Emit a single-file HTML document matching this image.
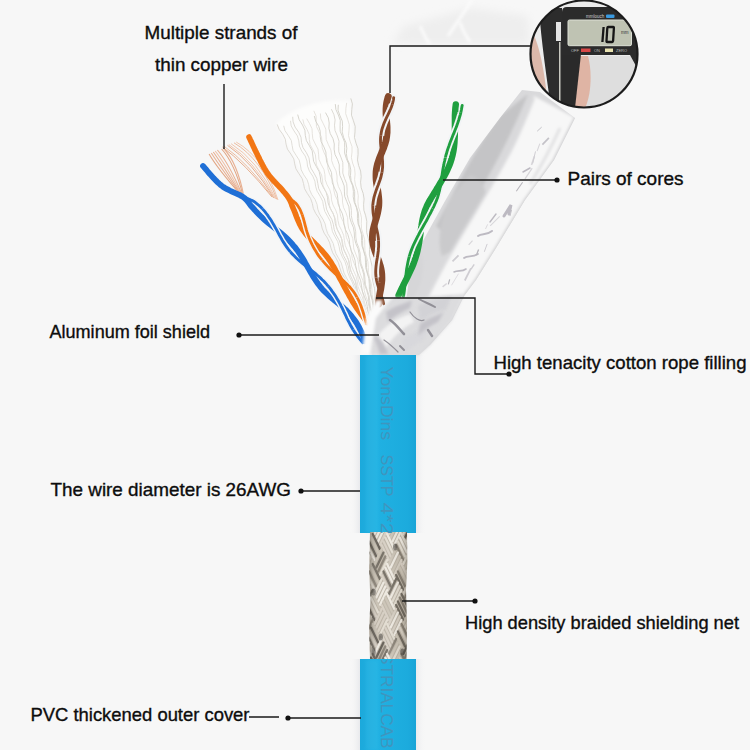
<!DOCTYPE html>
<html><head><meta charset="utf-8">
<style>
html,body{margin:0;padding:0;width:750px;height:750px;overflow:hidden;background:#f7f7f7;}
svg{display:block;}
text{font-family:"Liberation Sans",sans-serif;}
.lbl{fill:#0d0d0d;stroke:#0d0d0d;stroke-width:0.35;font-size:18.6px;}
</style></head><body>
<svg width="750" height="750" viewBox="0 0 750 750">
<defs>
  <linearGradient id="blueG" x1="0" x2="1" y1="0" y2="0">
    <stop offset="0" stop-color="#1ca9db"/>
    <stop offset="0.3" stop-color="#20b1e2"/>
    <stop offset="0.85" stop-color="#1cabdd"/>
    <stop offset="1" stop-color="#18a4d7"/>
  </linearGradient>
  <linearGradient id="foilG" x1="0" y1="0" x2="1" y2="0.55">
    <stop offset="0" stop-color="#cfcfd0"/>
    <stop offset="0.45" stop-color="#ebebeb"/>
    <stop offset="0.7" stop-color="#f4f4f4"/>
    <stop offset="1" stop-color="#dedede"/>
  </linearGradient>
  <pattern id="braidP" width="14" height="14" patternUnits="userSpaceOnUse" x="368" y="532">
    <rect width="14" height="14" fill="#c4beb2"/>
    <path d="M0 0 L14 14 M-7 7 L7 21 M7 -7 L21 7" stroke="#e6e2da" stroke-width="3"/>
    <path d="M14 0 L0 14 M21 7 L7 21 M7 -7 L-7 7" stroke="#8c867a" stroke-width="1.6"/>
  </pattern>
  <filter id="soft" x="-20%" y="-20%" width="140%" height="140%"><feGaussianBlur stdDeviation="1.6"/></filter>
  <clipPath id="braidClip"><path d="M370 532 L407 532 L407.5 560 L406 590 L407 625 L406.5 660 L370 660 L369 630 L370.5 600 L369 570 Z"/></clipPath>
  <linearGradient id="braidShade" x1="0" x2="1" y1="0" y2="0">
    <stop offset="0" stop-color="#4a463e" stop-opacity="0.35"/>
    <stop offset="0.25" stop-color="#fff" stop-opacity="0.05"/>
    <stop offset="0.55" stop-color="#fff" stop-opacity="0.12"/>
    <stop offset="0.85" stop-color="#4a463e" stop-opacity="0.05"/>
    <stop offset="1" stop-color="#4a463e" stop-opacity="0.3"/>
  </linearGradient>
  <clipPath id="blueClip1"><rect x="360" y="355" width="56" height="178"/></clipPath>
  <clipPath id="blueClip2"><rect x="360" y="660" width="56" height="90"/></clipPath>
  <filter id="soft2" x="-10%" y="-10%" width="120%" height="120%"><feGaussianBlur stdDeviation="0.7"/></filter>
  <clipPath id="foilClip"><path d="M522 90 L540 92 L575 118 L554 160 L525 200 L496 248 L476 280 L464 296 L452 320 L430 345 L419 355 L372 355 L378 330 L385 316 L407 273 L424 239 L445 201 L470 158 L500 118 Z"/></clipPath>
  <filter id="blur4" x="-30%" y="-30%" width="160%" height="160%"><feGaussianBlur stdDeviation="4"/></filter>
  <linearGradient id="shadeL" x1="0" x2="1"><stop offset="0" stop-color="#f7f7f7" stop-opacity="0"/><stop offset="1" stop-color="#e8e9ec"/></linearGradient>
  <linearGradient id="shadeR" x1="0" x2="1"><stop offset="0" stop-color="#eaebee"/><stop offset="1" stop-color="#f7f7f7" stop-opacity="0"/></linearGradient>
  <clipPath id="circClip"><circle cx="584" cy="54" r="53.5"/></clipPath>
</defs>
<rect width="750" height="750" fill="#f7f7f7"/>
<g filter="url(#blur4)">
  <path d="M392 44 L404 26 L442 16 L470 8 L528 16 L530 44 Z" fill="#eeeeee"/>
</g>
<path d="M472 0 L448 36" stroke="#fbfbfb" stroke-width="3" filter="url(#soft)"/>
<path d="M420 26 C424 34 426 40 430 44 M460 22 C462 30 466 36 470 42" stroke="#fdfdfd" stroke-width="2.5" fill="none" filter="url(#soft)"/>
<rect x="350" y="355" width="10" height="178" fill="url(#shadeL)"/>
<rect x="416" y="355" width="10" height="178" fill="url(#shadeR)"/>
<rect x="350" y="659" width="10" height="91" fill="url(#shadeL)"/>
<rect x="416" y="659" width="10" height="91" fill="url(#shadeR)"/>

<!-- foil -->
<path d="M522 90 L540 92 L575 118 L554 160 L525 200 L496 248 L476 280 L464 296 L452 320 L430 345 L419 355 L372 355 L378 330 L385 316 L407 273 L424 239 L445 201 L470 158 L500 118 Z" fill="#d9d9db"/>
<g clip-path="url(#foilClip)"><g filter="url(#soft)">
  <path d="M500 116 L528 94 C516 124 500 156 484 184 C472 204 460 222 448 236 L436 226 C452 196 474 150 500 116 Z" fill="#c4c4c6"/>
  <path d="M470 175 C486 180 492 200 480 224 C470 240 456 250 442 256 C436 240 442 212 452 196 Z" fill="#cacacc"/>
  <path d="M420 250 C426 262 424 282 412 300 L398 304 C404 284 412 262 420 250 Z" fill="#d6d6d8"/>
  <path d="M534 96 L575 118 L554 160 L525 200 L496 248 L476 280 L464 296 L452 320 L440 334 L411 334 C420 310 432 286 446 262 C466 226 490 190 508 156 C518 136 526 116 534 96 Z" fill="#f7f7f7"/>
  <path d="M575 118 L554 160 L525 200 L496 248 L476 280 L464 296 L452 320 L430 345" stroke="#c6c6c8" stroke-width="2" fill="none"/>
  <path d="M534 98 C526 118 518 138 508 156 C490 190 466 226 446 262 C434 284 420 310 411 334" stroke="#dcdcde" stroke-width="2.5" fill="none"/>
  <path d="M560 128 C550 150 540 168 530 184" stroke="#d8d8da" stroke-width="2" fill="none"/>
</g>
<g filter="url(#soft2)" stroke="#bdbac2" fill="none" stroke-linecap="round">
  <path d="M504 216 L511 205 L509 214" stroke-width="3"/>
  <path d="M478 236 C482 233 486 236 492 231" stroke-width="2"/>
  <path d="M464 258 C468 255 472 258 478 254" stroke-width="1.8"/>
  <path d="M454 272 C458 270 462 272 466 269" stroke-width="1.6"/>
  <path d="M523 172 L530 168" stroke-width="1.5"/>
  <path d="M490 222 L496 214" stroke-width="1.4"/>
</g></g></g>
<g clip-path="url(#foilClip)" filter="url(#soft2)"><path d="M534.4 156.3 L531.5 165.1" stroke="#d8d6da" stroke-width="1.6"/>
<path d="M487.6 224.4 L485.5 229.0" stroke="#d8d6da" stroke-width="0.9"/>
<path d="M446.7 283.5 L442.6 286.9" stroke="#d8d6da" stroke-width="1.4"/>
<path d="M541.7 127.1 L537.2 131.2" stroke="#b8b6bc" stroke-width="0.8"/>
<path d="M449.7 279.3 L448.3 284.3" stroke="#b8b6bc" stroke-width="1.2"/>
<path d="M535.5 151.4 L532.7 163.4" stroke="#cfcdd2" stroke-width="1.0"/>
<path d="M441.3 326.5 L434.8 336.4" stroke="#c4c2c8" stroke-width="0.9"/>
<path d="M499.7 216.4 L490.2 225.8" stroke="#d8d6da" stroke-width="1.1"/>
<path d="M433.6 318.3 L430.3 327.0" stroke="#c4c2c8" stroke-width="1.0"/>
<path d="M474.2 264.4 L471.1 269.1" stroke="#cfcdd2" stroke-width="1.4"/>
<path d="M522.6 182.3 L516.3 191.3" stroke="#b8b6bc" stroke-width="1.1"/>
<path d="M472.5 240.7 L468.7 244.8" stroke="#d8d6da" stroke-width="1.2"/>
<path d="M470.9 268.3 L464.8 280.5" stroke="#cfcdd2" stroke-width="1.8"/>
<path d="M487.2 243.9 L484.3 251.8" stroke="#cfcdd2" stroke-width="1.0"/>
<path d="M548.9 137.8 L542.4 144.6" stroke="#c4c2c8" stroke-width="1.7"/>
<path d="M458.5 255.3 L452.5 261.3" stroke="#cfcdd2" stroke-width="1.8"/>
<path d="M458.5 273.7 L451.5 285.3" stroke="#d8d6da" stroke-width="0.8"/>
<path d="M532.2 168.1 L525.0 178.8" stroke="#d8d6da" stroke-width="1.3"/>
<path d="M439.3 305.2 L436.6 315.1" stroke="#c4c2c8" stroke-width="1.2"/>
<path d="M539.8 143.6 L537.1 151.1" stroke="#d8d6da" stroke-width="1.1"/>
<path d="M511.5 210.0 L510.0 216.1" stroke="#c4c2c8" stroke-width="1.0"/>
<path d="M478.6 249.6 L476.4 255.3" stroke="#b8b6bc" stroke-width="1.3"/></g>
<path d="M276 124 C290 108 322 98 350 101 C356 160 368 240 378 300 L382 330 L364 330 C344 260 302 170 276 124 Z" fill="#fdfdfc" filter="url(#soft)"/>
<path d="M277.2 124.4 L279.1 129.3 L282.7 134.2 L285.3 139.2 L286.0 144.1 L287.4 149.1 L290.8 154.0 L293.8 158.9 L294.7 163.9 L295.9 168.8 L299.0 173.8 L302.2 178.7 L303.5 183.6 L304.5 188.6 L307.3 193.5 L310.6 198.5 L312.3 203.4 L313.3 208.4 L315.6 213.3 L319.0 218.2 L321.0 223.2 L322.1 228.1 L324.1 233.1 L327.4 238.0 L329.7 242.9 L330.9 247.9 L332.7 252.8 L335.8 257.8 L338.4 262.7 L339.8 267.6 L341.4 272.6 L344.3 277.5 L347.1 282.5 L348.7 287.4 L350.2 292.4 L352.9 297.3 L355.7 302.2 L357.6 307.2 L359.1 312.1 L361.5 317.1 L364.4 322.0" stroke="#d9d6cf" stroke-width="0.9" fill="none"/>
<path d="M283.7 125.8 L285.0 130.7 L288.3 135.6 L291.3 140.5 L292.1 145.4 L293.0 150.3 L296.0 155.2 L299.2 160.1 L300.4 165.0 L301.2 169.9 L303.8 174.9 L307.1 179.8 L308.7 184.7 L309.5 189.6 L311.7 194.5 L315.0 199.4 L317.0 204.3 L317.8 209.2 L319.6 214.1 L322.8 219.0 L325.1 223.9 L326.1 228.8 L327.7 233.7 L330.7 238.6 L333.2 243.5 L334.4 248.4 L335.8 253.3 L338.5 258.2 L341.3 263.1 L342.7 268.0 L344.0 273.0 L346.5 277.9 L349.3 282.8 L351.0 287.7 L352.2 292.6 L354.5 297.5 L357.2 302.4 L359.2 307.3 L360.5 312.2 L362.5 317.1 L365.2 322.0" stroke="#dedbd5" stroke-width="0.9" fill="none"/>
<path d="M290.5 120.8 L291.2 125.9 L294.0 130.9 L297.4 135.9 L298.8 140.9 L299.4 146.0 L301.7 151.0 L305.2 156.0 L307.0 161.1 L307.5 166.1 L309.4 171.1 L312.8 176.2 L314.9 181.2 L315.6 186.2 L317.1 191.2 L320.2 196.3 L322.7 201.3 L323.5 206.3 L324.8 211.4 L327.6 216.4 L330.3 221.4 L331.4 226.4 L332.4 231.5 L334.9 236.5 L337.7 241.5 L339.1 246.6 L340.0 251.6 L342.2 256.6 L344.9 261.6 L346.6 266.7 L347.5 271.7 L349.4 276.7 L352.0 281.8 L353.9 286.8 L354.9 291.8 L356.5 296.9 L359.0 301.9 L361.1 306.9 L362.2 311.9 L363.6 317.0 L365.9 322.0" stroke="#dedbd5" stroke-width="0.9" fill="none"/>
<path d="M292.7 116.8 L293.1 121.9 L295.1 127.1 L298.7 132.2 L301.0 137.3 L301.5 142.5 L303.0 147.6 L306.4 152.7 L309.0 157.9 L309.7 163.0 L310.9 168.1 L314.0 173.2 L316.8 178.4 L317.8 183.5 L318.7 188.6 L321.4 193.8 L324.4 198.9 L325.7 204.0 L326.5 209.1 L328.8 214.3 L331.8 219.4 L333.4 224.5 L334.2 229.7 L336.1 234.8 L339.0 239.9 L340.9 245.1 L341.7 250.2 L343.3 255.3 L346.1 260.4 L348.2 265.6 L349.1 270.7 L350.5 275.8 L353.0 281.0 L355.3 286.1 L356.4 291.2 L357.6 296.4 L359.9 301.5 L362.2 306.6 L363.5 311.7 L364.6 316.9 L366.6 322.0" stroke="#d9d6cf" stroke-width="0.9" fill="none"/>
<path d="M297.7 114.6 L299.2 119.8 L302.5 125.0 L304.9 130.2 L305.3 135.4 L306.4 140.6 L309.4 145.7 L312.2 150.9 L312.9 156.1 L313.6 161.3 L316.3 166.5 L319.2 171.7 L320.3 176.9 L320.9 182.0 L323.2 187.2 L326.2 192.4 L327.6 197.6 L328.1 202.8 L330.0 208.0 L333.0 213.1 L334.7 218.3 L335.3 223.5 L336.9 228.7 L339.6 233.9 L341.7 239.1 L342.4 244.2 L343.7 249.4 L346.3 254.6 L348.5 259.8 L349.4 265.0 L350.5 270.2 L352.8 275.3 L355.1 280.5 L356.3 285.7 L357.3 290.9 L359.3 296.1 L361.7 301.3 L363.1 306.4 L364.0 311.6 L365.8 316.8 L368.1 322.0" stroke="#d3d0c8" stroke-width="0.9" fill="none"/>
<path d="M302.8 119.3 L304.0 124.3 L307.0 129.4 L309.2 134.5 L309.3 139.5 L310.1 144.6 L312.9 149.7 L315.4 154.7 L315.9 159.8 L316.4 164.9 L318.9 169.9 L321.6 175.0 L322.5 180.1 L322.9 185.1 L325.1 190.2 L327.9 195.3 L329.1 200.4 L329.5 205.4 L331.3 210.5 L334.1 215.6 L335.8 220.6 L336.3 225.7 L337.7 230.8 L340.5 235.8 L342.4 240.9 L343.1 246.0 L344.3 251.0 L346.8 256.1 L349.0 261.2 L349.9 266.2 L351.0 271.3 L353.3 276.4 L355.7 281.5 L356.8 286.5 L357.8 291.6 L359.9 296.7 L362.3 301.7 L363.8 306.8 L364.8 311.9 L366.7 316.9 L369.0 322.0" stroke="#e3e0da" stroke-width="0.9" fill="none"/>
<path d="M306.7 118.6 L309.6 123.7 L312.0 128.7 L312.3 133.8 L312.8 138.9 L315.3 144.0 L318.0 149.1 L318.6 154.2 L318.9 159.3 L321.1 164.3 L323.9 169.4 L324.9 174.5 L325.2 179.6 L327.0 184.7 L329.8 189.8 L331.2 194.9 L331.5 199.9 L333.0 205.0 L335.7 210.1 L337.5 215.2 L337.9 220.3 L339.1 225.4 L341.7 230.5 L343.7 235.5 L344.4 240.6 L345.3 245.7 L347.6 250.8 L349.9 255.9 L350.8 261.0 L351.6 266.1 L353.7 271.1 L356.0 276.2 L357.2 281.3 L358.0 286.4 L359.8 291.5 L362.2 296.6 L363.6 301.7 L364.5 306.7 L366.1 311.8 L368.3 316.9 L370.0 322.0" stroke="#e3e0da" stroke-width="0.9" fill="none"/>
<path d="M313.8 110.8 L316.1 116.1 L316.2 121.4 L316.5 126.6 L319.0 131.9 L321.5 137.2 L322.0 142.5 L322.2 147.8 L324.2 153.0 L326.9 158.3 L327.8 163.6 L327.9 168.9 L329.6 174.2 L332.3 179.4 L333.6 184.7 L333.8 190.0 L335.1 195.3 L337.7 200.6 L339.4 205.8 L339.7 211.1 L340.7 216.4 L343.2 221.7 L345.1 227.0 L345.6 232.2 L346.4 237.5 L348.7 242.8 L350.8 248.1 L351.6 253.4 L352.3 258.6 L354.3 263.9 L356.5 269.2 L357.6 274.5 L358.2 279.8 L359.9 285.0 L362.2 290.3 L363.5 295.6 L364.2 300.9 L365.7 306.2 L367.9 311.4 L369.5 316.7 L370.3 322.0" stroke="#e3e0da" stroke-width="0.9" fill="none"/>
<path d="M314.3 116.0 L315.7 121.1 L318.7 126.3 L320.3 131.4 L320.2 136.6 L321.1 141.7 L323.9 146.9 L325.9 152.0 L326.1 157.2 L326.7 162.3 L329.2 167.5 L331.5 172.6 L331.9 177.8 L332.3 182.9 L334.5 188.1 L337.0 193.2 L337.8 198.4 L338.0 203.5 L339.9 208.7 L342.4 213.8 L343.6 219.0 L343.9 224.1 L345.3 229.3 L347.8 234.4 L349.3 239.6 L349.7 244.7 L350.9 249.9 L353.3 255.0 L355.0 260.2 L355.6 265.3 L356.6 270.5 L358.7 275.6 L360.7 280.8 L361.5 285.9 L362.3 291.1 L364.3 296.2 L366.3 301.4 L367.3 306.5 L368.1 311.7 L369.8 316.8 L371.9 322.0" stroke="#d3d0c8" stroke-width="0.9" fill="none"/>
<path d="M320.4 113.5 L320.8 118.7 L323.4 123.9 L325.8 129.1 L326.0 134.3 L326.2 139.5 L328.4 144.7 L330.9 150.0 L331.6 155.2 L331.6 160.4 L333.4 165.6 L336.0 170.8 L337.0 176.0 L337.0 181.2 L338.4 186.5 L341.0 191.7 L342.4 196.9 L342.5 202.1 L343.5 207.3 L345.9 212.5 L347.6 217.7 L347.9 222.9 L348.6 228.2 L350.8 233.4 L352.8 238.6 L353.3 243.8 L353.8 249.0 L355.8 254.2 L357.8 259.4 L358.6 264.7 L359.1 269.9 L360.7 275.1 L362.8 280.3 L363.8 285.5 L364.3 290.7 L365.7 295.9 L367.7 301.1 L369.0 306.4 L369.6 311.6 L370.7 316.8 L372.6 322.0" stroke="#e3e0da" stroke-width="0.9" fill="none"/>
<path d="M325.5 112.6 L328.3 117.8 L329.2 123.0 L328.9 128.3 L330.2 133.5 L333.0 138.7 L334.3 144.0 L334.1 149.2 L335.0 154.5 L337.6 159.7 L339.3 164.9 L339.3 170.2 L339.9 175.4 L342.2 180.6 L344.2 185.9 L344.4 191.1 L344.7 196.3 L346.8 201.6 L348.9 206.8 L349.4 212.0 L349.6 217.3 L351.3 222.5 L353.5 227.8 L354.3 233.0 L354.5 238.2 L355.8 243.5 L358.0 248.7 L359.1 253.9 L359.3 259.2 L360.4 264.4 L362.4 269.6 L363.8 274.9 L364.1 280.1 L364.9 285.3 L366.8 290.6 L368.3 295.8 L368.8 301.1 L369.5 306.3 L371.1 311.5 L372.7 316.8 L373.4 322.0" stroke="#d3d0c8" stroke-width="0.9" fill="none"/>
<path d="M331.4 109.2 L333.9 114.6 L335.1 119.9 L334.5 125.2 L335.0 130.5 L337.3 135.8 L339.0 141.2 L338.7 146.5 L338.8 151.8 L340.9 157.1 L342.8 162.4 L342.9 167.7 L342.8 173.1 L344.5 178.4 L346.7 183.7 L347.1 189.0 L347.0 194.3 L348.4 199.7 L350.6 205.0 L351.4 210.3 L351.3 215.6 L352.4 220.9 L354.6 226.3 L355.7 231.6 L355.8 236.9 L356.6 242.2 L358.7 247.5 L360.1 252.9 L360.4 258.2 L361.0 263.5 L362.9 268.8 L364.5 274.1 L365.0 279.4 L365.5 284.8 L367.2 290.1 L369.0 295.4 L369.7 300.7 L370.2 306.0 L371.7 311.4 L373.5 316.7 L374.5 322.0" stroke="#d9d6cf" stroke-width="0.9" fill="none"/>
<path d="M335.3 104.1 L335.9 109.5 L338.4 115.0 L340.3 120.4 L340.1 125.9 L340.2 131.3 L342.5 136.8 L344.6 142.2 L344.7 147.7 L344.6 153.1 L346.4 158.6 L348.7 164.0 L349.1 169.5 L348.9 174.9 L350.4 180.4 L352.6 185.8 L353.4 191.3 L353.2 196.7 L354.2 202.1 L356.4 207.6 L357.5 213.0 L357.4 218.5 L358.1 223.9 L360.1 229.4 L361.5 234.8 L361.5 240.3 L361.9 245.7 L363.7 251.2 L365.2 256.6 L365.5 262.1 L365.7 267.5 L367.2 273.0 L368.8 278.4 L369.3 283.9 L369.4 289.3 L370.6 294.8 L372.2 300.2 L372.9 305.7 L373.1 311.1 L374.0 316.6 L375.5 322.0" stroke="#d3d0c8" stroke-width="0.9" fill="none"/>
<path d="M338.3 104.8 L338.0 110.2 L339.9 115.6 L342.3 121.1 L342.6 126.5 L342.2 131.9 L343.6 137.4 L346.0 142.8 L346.8 148.2 L346.3 153.7 L347.3 159.1 L349.7 164.5 L350.8 170.0 L350.5 175.4 L351.1 180.8 L353.3 186.2 L354.7 191.7 L354.6 197.1 L354.9 202.5 L356.9 208.0 L358.5 213.4 L358.7 218.8 L358.8 224.3 L360.4 229.7 L362.2 235.1 L362.6 240.5 L362.7 246.0 L364.0 251.4 L365.8 256.8 L366.5 262.3 L366.5 267.7 L367.5 273.1 L369.3 278.6 L370.3 284.0 L370.4 289.4 L371.1 294.8 L372.8 300.3 L373.9 305.7 L374.2 311.1 L374.8 316.6 L376.2 322.0" stroke="#d3d0c8" stroke-width="0.9" fill="none"/>
<path d="M346.7 102.8 L345.9 108.2 L345.7 113.7 L347.6 119.2 L349.3 124.7 L349.0 130.2 L348.5 135.6 L350.0 141.1 L352.0 146.6 L352.0 152.1 L351.4 157.6 L352.6 163.0 L354.6 168.5 L355.1 174.0 L354.6 179.5 L355.4 185.0 L357.4 190.5 L358.3 195.9 L357.9 201.4 L358.4 206.9 L360.3 212.4 L361.5 217.9 L361.3 223.3 L361.5 228.8 L363.2 234.3 L364.7 239.8 L364.8 245.3 L364.9 250.7 L366.3 256.2 L367.9 261.7 L368.3 267.2 L368.4 272.7 L369.6 278.2 L371.3 283.6 L371.9 289.1 L372.1 294.6 L373.1 300.1 L374.7 305.6 L375.6 311.0 L375.8 316.5 L376.7 322.0" stroke="#e3e0da" stroke-width="0.9" fill="none"/>
<path d="M350.8 98.4 L352.4 103.9 L351.8 109.5 L351.5 115.1 L353.4 120.7 L355.2 126.3 L355.0 131.9 L354.5 137.5 L356.0 143.1 L358.0 148.7 L358.1 154.3 L357.5 159.9 L358.6 165.4 L360.6 171.0 L361.2 176.6 L360.6 182.2 L361.2 187.8 L363.2 193.4 L364.1 199.0 L363.6 204.6 L363.9 210.2 L365.7 215.8 L366.8 221.4 L366.6 227.0 L366.7 232.5 L368.2 238.1 L369.5 243.7 L369.5 249.3 L369.4 254.9 L370.7 260.5 L372.1 266.1 L372.3 271.7 L372.2 277.3 L373.2 282.9 L374.6 288.5 L375.1 294.0 L375.0 299.6 L375.7 305.2 L377.1 310.8 L377.7 316.4 L377.7 322.0" stroke="#d3d0c8" stroke-width="0.9" fill="none"/>
<path d="M209.1 154.0 Q217.1 168.0 240.0 194.0" stroke="#e2a684" stroke-width="1.1" fill="none"/>
<path d="M211.3 153.0 Q220.3 167.0 240.7 194.5" stroke="#e8b092" stroke-width="1.1" fill="none"/>
<path d="M213.3 152.0 Q223.3 166.0 241.3 195.0" stroke="#e8b092" stroke-width="1.1" fill="none"/>
<path d="M215.2 151.0 Q226.2 165.0 242.0 195.5" stroke="#efc0a6" stroke-width="1.1" fill="none"/>
<path d="M217.4 150.0 Q229.4 164.0 242.7 196.0" stroke="#e8b092" stroke-width="1.1" fill="none"/>
<path d="M221.6 149.0 Q234.6 163.0 243.3 196.5" stroke="#e2a684" stroke-width="1.1" fill="none"/>
<path d="M223.2 148.0 Q237.2 162.0 244.0 197.0" stroke="#e8b092" stroke-width="1.1" fill="none"/>
<path d="M222.4 147.0 Q244.4 163.0 272.0 197.0" stroke="#e6ae8e" stroke-width="1.0" fill="none"/>
<path d="M224.0 146.2 Q247.0 162.2 273.0 197.5" stroke="#ecbc9f" stroke-width="1.0" fill="none"/>
<path d="M227.5 145.3 Q251.5 161.3 274.0 198.0" stroke="#e6ae8e" stroke-width="1.0" fill="none"/>
<path d="M228.8 144.5 Q253.8 160.5 275.0 198.5" stroke="#f2c8b0" stroke-width="1.0" fill="none"/>
<path d="M231.1 143.7 Q257.1 159.7 276.0 199.0" stroke="#f2c8b0" stroke-width="1.0" fill="none"/>
<path d="M234.0 142.8 Q261.0 158.8 277.0 199.5" stroke="#ecbc9f" stroke-width="1.0" fill="none"/>
<path d="M236.2 142.0 Q264.2 158.0 278.0 200.0" stroke="#f2c8b0" stroke-width="1.0" fill="none"/>
<path d="M241.6 196.0 L243.4 196.8 L245.1 197.5 L246.9 198.3 L248.7 199.1 L250.5 199.9 L252.3 200.6 L254.0 201.5 L255.5 202.6 L257.0 203.8 L258.4 205.0 L259.8 206.2 L261.2 207.5 L262.5 208.9 L263.8 210.4 L265.1 211.9 L266.3 213.5 L267.6 215.2 L268.8 217.0 L270.1 218.8 L271.4 220.8 L272.6 222.9 L273.9 225.1 L275.2 227.4 L276.6 229.9 L277.9 232.3 L279.2 234.9 L280.7 237.4 L282.1 239.9 L283.6 242.4 L285.2 244.9 L286.9 247.3 L288.6 249.6 L290.4 251.8 L292.2 253.9 L294.1 255.8 L296.0 257.7 L297.9 259.5 L299.8 261.2 L301.8 262.8 L303.7 264.4 L305.7 265.9 L307.6 267.5 L309.6 269.0 L311.5 270.5 L313.4 271.9 L315.3 273.4 L317.1 275.0 L318.9 276.5 L320.6 278.1 L322.2 279.7 L323.9 281.3 L325.4 282.9 L326.9 284.6 L328.3 286.3 L329.7 287.9 L331.0 289.6 L332.2 291.4 L333.5 293.1 L334.7 294.8 L335.8 296.6 L336.9 298.4 L338.0 300.3 L339.0 302.1 L340.1 304.0 L341.0 305.9 L342.0 307.8 L343.0 309.8 L343.9 311.8 L344.9 313.8 L345.9 316.0 L346.9 318.3 L348.1 320.6 L349.3 322.9 L350.5 325.2 L351.8 327.5 L353.1 329.7 L354.5 331.9 L355.9 333.9 L357.3 335.8 L358.6 337.5 L359.8 339.1 L361.0 340.5 L362.0 341.7 L362.9 342.7" stroke="#f2f4f6" stroke-width="5.8" fill="none" stroke-linecap="round"/>
<path d="M241.6 196.0 L243.4 196.8 L245.1 197.5 L246.9 198.3 L248.7 199.1 L250.5 199.9 L252.3 200.6 L254.0 201.5 L255.5 202.6 L257.0 203.8 L258.4 205.0 L259.8 206.2 L261.2 207.5 L262.5 208.9 L263.8 210.4 L265.1 211.9 L266.3 213.5 L267.6 215.2 L268.8 217.0 L270.1 218.8 L271.4 220.8 L272.6 222.9 L273.9 225.1 L275.2 227.4 L276.6 229.9 L277.9 232.3 L279.2 234.9 L280.7 237.4 L282.1 239.9 L283.6 242.4 L285.2 244.9 L286.9 247.3 L288.6 249.6 L290.4 251.8 L292.2 253.9 L294.1 255.8 L296.0 257.7 L297.9 259.5 L299.8 261.2 L301.8 262.8 L303.7 264.4 L305.7 265.9 L307.6 267.5 L309.6 269.0 L311.5 270.5 L313.4 271.9 L315.3 273.4 L317.1 275.0 L318.9 276.5 L320.6 278.1 L322.2 279.7 L323.9 281.3 L325.4 282.9 L326.9 284.6 L328.3 286.3 L329.7 287.9 L331.0 289.6 L332.2 291.4 L333.5 293.1 L334.7 294.8 L335.8 296.6 L336.9 298.4 L338.0 300.3 L339.0 302.1 L340.1 304.0 L341.0 305.9 L342.0 307.8 L343.0 309.8 L343.9 311.8 L344.9 313.8 L345.9 316.0 L346.9 318.3 L348.1 320.6 L349.3 322.9 L350.5 325.2 L351.8 327.5 L353.1 329.7 L354.5 331.9 L355.9 333.9 L357.3 335.8 L358.6 337.5 L359.8 339.1 L361.0 340.5 L362.0 341.7 L362.9 342.7" stroke="#1f6fd6" stroke-width="2.90" fill="none" stroke-linecap="round"/>
<path d="M203.0 166.0 L203.7 166.7 L204.4 167.6 L205.3 168.6 L206.2 169.7 L207.3 171.0 L208.4 172.3 L209.6 173.7 L210.9 175.1 L212.2 176.6 L213.5 178.1 L214.9 179.5 L216.3 181.0 L217.7 182.3 L219.2 183.7 L220.6 184.9 L222.0 186.0 L223.4 187.0 L224.9 188.0 L226.5 188.9 L228.1 189.7 L229.7 190.5 L231.4 191.3 L233.1 192.1 L234.8 192.9 L236.5 193.6 L238.2 194.4 L239.9 195.2 L241.6 196.1 L243.2 197.1 L244.7 198.3 L246.1 199.5 L247.3 200.9 L248.5 202.4 L249.5 203.9 L250.6 205.4 L251.8 206.7 L253.0 208.0 L254.1 209.3 L255.3 210.6 L256.6 212.0 L257.8 213.3 L259.2 214.7 L260.5 216.0 L262.0 217.4 L263.5 218.8 L265.1 220.3 L266.8 221.7 L268.6 223.2 L270.5 224.7 L272.5 226.3 L274.6 228.0 L276.7 229.7 L278.9 231.5 L281.1 233.3 L283.3 235.2 L285.5 237.2 L287.6 239.2 L289.7 241.3 L291.7 243.4 L293.5 245.6 L295.3 247.7 L297.0 249.9 L298.6 252.1 L300.0 254.3 L301.4 256.4 L302.8 258.6 L304.1 260.8 L305.3 263.0 L306.6 265.1 L307.8 267.3 L309.0 269.4 L310.2 271.5 L311.5 273.6 L312.7 275.7 L313.9 277.7 L315.2 279.7 L316.5 281.6 L317.8 283.5 L319.2 285.3 L320.6 287.1 L322.0 288.8 L323.5 290.5 L325.0 292.0 L326.6 293.5 L328.2 295.0 L329.7 296.4 L331.3 297.8 L333.0 299.1 L334.6 300.5 L336.2 301.8 L337.9 303.1 L339.5 304.4 L341.2 305.8 L342.8 307.2 L344.4 308.7 L346.1 310.2 L347.7 311.9 L349.4 313.7 L351.1 315.6 L352.7 317.7 L354.3 319.8 L355.9 322.0 L357.3 324.2 L358.6 326.5 L359.8 328.8 L360.9 331.0 L361.9 333.1 L362.7 335.1 L363.5 337.0 L364.1 338.7 L364.7 340.1 L365.1 341.3" stroke="#1f6fd6" stroke-width="5.8" fill="none" stroke-linecap="round"/>
<path d="M262.5 208.9 L263.8 210.4 L265.1 211.9 L266.3 213.5 L267.6 215.2 L268.8 217.0 L270.1 218.8 L271.4 220.8 L272.6 222.9 L273.9 225.1 L275.2 227.4 L276.6 229.9 L277.9 232.3 L279.2 234.9 L280.7 237.4 L282.1 239.9 L283.6 242.4 L285.2 244.9 L286.9 247.3 L288.6 249.6 L290.4 251.8" stroke="#f2f4f6" stroke-width="5.8" fill="none" stroke-linecap="butt"/>
<path d="M262.5 208.9 L263.8 210.4 L265.1 211.9 L266.3 213.5 L267.6 215.2 L268.8 217.0 L270.1 218.8 L271.4 220.8 L272.6 222.9 L273.9 225.1 L275.2 227.4 L276.6 229.9 L277.9 232.3 L279.2 234.9 L280.7 237.4 L282.1 239.9 L283.6 242.4 L285.2 244.9 L286.9 247.3 L288.6 249.6 L290.4 251.8" stroke="#1f6fd6" stroke-width="2.90" fill="none" stroke-linecap="butt"/>
<path d="M328.3 286.3 L329.7 287.9 L331.0 289.6 L332.2 291.4 L333.5 293.1 L334.7 294.8 L335.8 296.6 L336.9 298.4 L338.0 300.3 L339.0 302.1 L340.1 304.0 L341.0 305.9 L342.0 307.8 L343.0 309.8 L343.9 311.8 L344.9 313.8 L345.9 316.0 L346.9 318.3 L348.1 320.6 L349.3 322.9 L350.5 325.2 L351.8 327.5 L353.1 329.7" stroke="#f2f4f6" stroke-width="5.8" fill="none" stroke-linecap="butt"/>
<path d="M328.3 286.3 L329.7 287.9 L331.0 289.6 L332.2 291.4 L333.5 293.1 L334.7 294.8 L335.8 296.6 L336.9 298.4 L338.0 300.3 L339.0 302.1 L340.1 304.0 L341.0 305.9 L342.0 307.8 L343.0 309.8 L343.9 311.8 L344.9 313.8 L345.9 316.0 L346.9 318.3 L348.1 320.6 L349.3 322.9 L350.5 325.2 L351.8 327.5 L353.1 329.7" stroke="#1f6fd6" stroke-width="2.90" fill="none" stroke-linecap="butt"/>
<path d="M285.7 194.0 L286.5 194.9 L287.4 195.8 L288.2 196.6 L289.1 197.4 L289.9 198.2 L290.8 198.9 L291.7 199.7 L292.6 200.5 L293.6 201.3 L294.6 202.2 L295.6 203.1 L296.6 204.2 L297.5 205.4 L298.4 206.7 L299.3 208.2 L300.1 209.7 L300.8 211.3 L301.5 213.0 L302.2 214.7 L302.7 216.4 L303.3 218.2 L303.8 220.1 L304.3 221.9 L304.8 223.8 L305.3 225.8 L305.8 227.7 L306.3 229.7 L306.9 231.7 L307.6 233.8 L308.3 235.8 L309.1 238.0 L310.0 240.2 L311.0 242.4 L312.1 244.7 L313.3 247.0 L314.6 249.3 L316.0 251.6 L317.4 253.9 L318.9 256.1 L320.5 258.2 L322.1 260.2 L323.8 262.2 L325.5 264.1 L327.1 265.9 L328.8 267.6 L330.4 269.2 L332.0 270.8 L333.6 272.3 L335.1 273.7 L336.7 275.0 L338.2 276.3 L339.7 277.6 L341.2 278.9 L342.6 280.1 L344.1 281.4 L345.5 282.7 L346.9 284.0 L348.2 285.4 L349.6 286.8 L350.9 288.3 L352.1 289.8 L353.4 291.5 L354.6 293.3 L355.8 295.2 L357.0 297.3 L358.1 299.4 L359.2 301.7 L360.2 304.0 L361.1 306.3 L361.9 308.7 L362.7 311.0 L363.4 313.2 L364.0 315.3 L364.6 317.3 L365.1 319.1 L365.6 320.7 L366.0 322.2 L366.4 323.3" stroke="#f2f4f6" stroke-width="5.6" fill="none" stroke-linecap="round"/>
<path d="M285.7 194.0 L286.5 194.9 L287.4 195.8 L288.2 196.6 L289.1 197.4 L289.9 198.2 L290.8 198.9 L291.7 199.7 L292.6 200.5 L293.6 201.3 L294.6 202.2 L295.6 203.1 L296.6 204.2 L297.5 205.4 L298.4 206.7 L299.3 208.2 L300.1 209.7 L300.8 211.3 L301.5 213.0 L302.2 214.7 L302.7 216.4 L303.3 218.2 L303.8 220.1 L304.3 221.9 L304.8 223.8 L305.3 225.8 L305.8 227.7 L306.3 229.7 L306.9 231.7 L307.6 233.8 L308.3 235.8 L309.1 238.0 L310.0 240.2 L311.0 242.4 L312.1 244.7 L313.3 247.0 L314.6 249.3 L316.0 251.6 L317.4 253.9 L318.9 256.1 L320.5 258.2 L322.1 260.2 L323.8 262.2 L325.5 264.1 L327.1 265.9 L328.8 267.6 L330.4 269.2 L332.0 270.8 L333.6 272.3 L335.1 273.7 L336.7 275.0 L338.2 276.3 L339.7 277.6 L341.2 278.9 L342.6 280.1 L344.1 281.4 L345.5 282.7 L346.9 284.0 L348.2 285.4 L349.6 286.8 L350.9 288.3 L352.1 289.8 L353.4 291.5 L354.6 293.3 L355.8 295.2 L357.0 297.3 L358.1 299.4 L359.2 301.7 L360.2 304.0 L361.1 306.3 L361.9 308.7 L362.7 311.0 L363.4 313.2 L364.0 315.3 L364.6 317.3 L365.1 319.1 L365.6 320.7 L366.0 322.2 L366.4 323.3" stroke="#f27614" stroke-width="2.80" fill="none" stroke-linecap="round"/>
<path d="M249.0 137.0 L249.3 137.7 L249.7 138.5 L250.1 139.4 L250.6 140.4 L251.1 141.6 L251.7 142.8 L252.3 144.1 L252.9 145.4 L253.5 146.7 L254.2 148.1 L254.8 149.5 L255.5 150.9 L256.1 152.2 L256.8 153.5 L257.4 154.8 L258.0 156.0 L258.6 157.2 L259.2 158.3 L259.7 159.4 L260.3 160.6 L260.8 161.7 L261.4 162.8 L262.0 163.9 L262.6 165.1 L263.2 166.2 L263.8 167.3 L264.4 168.4 L265.1 169.5 L265.7 170.6 L266.5 171.8 L267.2 172.9 L268.0 174.0 L268.8 175.1 L269.7 176.3 L270.7 177.4 L271.7 178.5 L272.7 179.7 L273.7 180.8 L274.8 182.0 L275.9 183.1 L277.0 184.3 L278.0 185.4 L279.1 186.5 L280.1 187.6 L281.2 188.7 L282.2 189.8 L283.1 190.9 L284.0 192.0 L284.9 193.0 L285.7 194.0 L286.5 195.0 L287.2 195.9 L287.9 196.9 L288.5 197.8 L289.1 198.8 L289.7 199.8 L290.2 200.9 L290.7 201.9 L291.2 203.0 L291.6 204.2 L292.0 205.5 L292.5 206.7 L293.0 208.0 L293.6 209.3 L294.2 210.6 L294.8 212.1 L295.3 213.6 L295.9 215.1 L296.5 216.8 L297.2 218.4 L297.9 220.2 L298.7 221.9 L299.5 223.7 L300.4 225.5 L301.4 227.3 L302.5 229.2 L303.7 231.0 L304.9 232.7 L306.3 234.5 L307.7 236.2 L309.3 237.8 L310.9 239.6 L312.6 241.3 L314.4 243.1 L316.2 244.9 L318.1 246.7 L319.9 248.6 L321.7 250.5 L323.5 252.5 L325.2 254.5 L326.8 256.5 L328.4 258.6 L329.8 260.7 L331.2 262.7 L332.4 264.8 L333.6 266.8 L334.7 268.7 L335.7 270.6 L336.7 272.4 L337.7 274.2 L338.6 276.0 L339.5 277.7 L340.4 279.5 L341.4 281.1 L342.3 282.8 L343.1 284.5 L344.0 286.1 L344.9 287.8 L345.8 289.4 L346.7 291.1 L347.7 292.8 L348.6 294.5 L349.6 296.3 L350.7 298.2 L351.8 300.2 L353.0 302.3 L354.3 304.3 L355.7 306.4 L357.0 308.4 L358.4 310.5 L359.8 312.4 L361.2 314.3 L362.5 316.0 L363.8 317.7 L364.9 319.2 L366.0 320.6 L366.9 321.7 L367.6 322.7" stroke="#f27614" stroke-width="5.6" fill="none" stroke-linecap="round"/>
<path d="M302.2 214.7 L302.7 216.4 L303.3 218.2 L303.8 220.1 L304.3 221.9 L304.8 223.8 L305.3 225.8 L305.8 227.7 L306.3 229.7 L306.9 231.7 L307.6 233.8 L308.3 235.8 L309.1 238.0 L310.0 240.2 L311.0 242.4 L312.1 244.7 L313.3 247.0 L314.6 249.3 L316.0 251.6 L317.4 253.9 L318.9 256.1 L320.5 258.2 L322.1 260.2" stroke="#f2f4f6" stroke-width="5.6" fill="none" stroke-linecap="butt"/>
<path d="M302.2 214.7 L302.7 216.4 L303.3 218.2 L303.8 220.1 L304.3 221.9 L304.8 223.8 L305.3 225.8 L305.8 227.7 L306.3 229.7 L306.9 231.7 L307.6 233.8 L308.3 235.8 L309.1 238.0 L310.0 240.2 L311.0 242.4 L312.1 244.7 L313.3 247.0 L314.6 249.3 L316.0 251.6 L317.4 253.9 L318.9 256.1 L320.5 258.2 L322.1 260.2" stroke="#f27614" stroke-width="2.80" fill="none" stroke-linecap="butt"/>
<path d="M357.0 297.3 L358.1 299.4 L359.2 301.7 L360.2 304.0 L361.1 306.3 L361.9 308.7 L362.7 311.0 L363.4 313.2 L364.0 315.3 L364.6 317.3 L365.1 319.1 L365.6 320.7 L366.0 322.2 L366.4 323.3" stroke="#f2f4f6" stroke-width="5.6" fill="none" stroke-linecap="butt"/>
<path d="M357.0 297.3 L358.1 299.4 L359.2 301.7 L360.2 304.0 L361.1 306.3 L361.9 308.7 L362.7 311.0 L363.4 313.2 L364.0 315.3 L364.6 317.3 L365.1 319.1 L365.6 320.7 L366.0 322.2 L366.4 323.3" stroke="#f27614" stroke-width="2.80" fill="none" stroke-linecap="butt"/>
<path d="M393.7 97.6 L393.6 98.4 L393.5 99.4 L393.3 100.5 L393.0 101.7 L392.7 102.9 L392.3 104.3 L391.8 105.7 L391.3 107.2 L390.7 108.7 L390.0 110.3 L389.3 111.9 L388.6 113.5 L387.8 115.1 L387.0 116.7 L386.2 118.3 L385.5 119.9 L384.8 121.5 L384.1 123.1 L383.5 124.8 L382.9 126.5 L382.3 128.2 L381.8 129.9 L381.4 131.7 L381.1 133.6 L380.8 135.4 L380.6 137.3 L380.5 139.3 L380.5 141.3 L380.6 143.4 L380.8 145.5 L381.0 147.7 L381.3 149.9 L381.6 152.2 L381.9 154.6 L382.2 157.0 L382.4 159.5 L382.6 162.1 L382.6 164.6 L382.6 167.2 L382.3 169.8 L382.0 172.3 L381.4 174.9 L380.8 177.5 L380.0 180.0 L379.1 182.5 L378.2 185.0 L377.2 187.5 L376.3 189.9 L375.5 192.4 L374.7 194.9 L374.0 197.4 L373.5 199.9 L373.1 202.5 L372.8 205.1 L372.8 207.6 L372.9 210.2 L373.1 212.8 L373.5 215.4 L374.0 217.9 L374.5 220.4 L375.1 222.9 L375.7 225.3 L376.3 227.7 L376.9 230.0 L377.4 232.2 L377.8 234.4 L378.1 236.5 L378.4 238.6 L378.5 240.6 L378.6 242.6 L378.6 244.7 L378.6 246.7 L378.4 248.8 L378.3 250.9 L378.0 253.0 L377.7 255.2 L377.4 257.3 L377.0 259.6 L376.6 261.8 L376.3 264.1 L376.0 266.6 L375.8 269.2 L375.7 271.9 L375.8 274.7 L376.1 277.6 L376.6 280.5 L377.3 283.4 L378.1 286.2 L379.0 289.0 L379.9 291.7 L380.8 294.2 L381.6 296.6 L382.3 298.8 L382.9 300.7 L383.3 302.4 L383.6 303.8" stroke="#f2f4f6" stroke-width="6.8" fill="none" stroke-linecap="round"/>
<path d="M393.7 97.6 L393.6 98.4 L393.5 99.4 L393.3 100.5 L393.0 101.7 L392.7 102.9 L392.3 104.3 L391.8 105.7 L391.3 107.2 L390.7 108.7 L390.0 110.3 L389.3 111.9 L388.6 113.5 L387.8 115.1 L387.0 116.7 L386.2 118.3 L385.5 119.9 L384.8 121.5 L384.1 123.1 L383.5 124.8 L382.9 126.5 L382.3 128.2 L381.8 129.9 L381.4 131.7 L381.1 133.6 L380.8 135.4 L380.6 137.3 L380.5 139.3 L380.5 141.3 L380.6 143.4 L380.8 145.5 L381.0 147.7 L381.3 149.9 L381.6 152.2 L381.9 154.6 L382.2 157.0 L382.4 159.5 L382.6 162.1 L382.6 164.6 L382.6 167.2 L382.3 169.8 L382.0 172.3 L381.4 174.9 L380.8 177.5 L380.0 180.0 L379.1 182.5 L378.2 185.0 L377.2 187.5 L376.3 189.9 L375.5 192.4 L374.7 194.9 L374.0 197.4 L373.5 199.9 L373.1 202.5 L372.8 205.1 L372.8 207.6 L372.9 210.2 L373.1 212.8 L373.5 215.4 L374.0 217.9 L374.5 220.4 L375.1 222.9 L375.7 225.3 L376.3 227.7 L376.9 230.0 L377.4 232.2 L377.8 234.4 L378.1 236.5 L378.4 238.6 L378.5 240.6 L378.6 242.6 L378.6 244.7 L378.6 246.7 L378.4 248.8 L378.3 250.9 L378.0 253.0 L377.7 255.2 L377.4 257.3 L377.0 259.6 L376.6 261.8 L376.3 264.1 L376.0 266.6 L375.8 269.2 L375.7 271.9 L375.8 274.7 L376.1 277.6 L376.6 280.5 L377.3 283.4 L378.1 286.2 L379.0 289.0 L379.9 291.7 L380.8 294.2 L381.6 296.6 L382.3 298.8 L382.9 300.7 L383.3 302.4 L383.6 303.8" stroke="#86492b" stroke-width="2.86" fill="none" stroke-linecap="round"/>
<path d="M388.3 96.4 L388.0 97.2 L387.8 98.1 L387.5 99.1 L387.2 100.3 L386.9 101.6 L386.6 103.0 L386.4 104.5 L386.2 106.0 L386.1 107.7 L386.0 109.4 L386.0 111.2 L386.0 113.0 L386.1 114.8 L386.2 116.6 L386.4 118.3 L386.5 120.1 L386.7 121.8 L386.8 123.6 L387.0 125.3 L387.1 127.1 L387.1 128.9 L387.1 130.7 L387.1 132.5 L386.9 134.3 L386.7 136.2 L386.4 138.1 L386.1 140.0 L385.6 141.9 L385.0 143.9 L384.3 145.9 L383.6 148.0 L382.7 150.1 L381.9 152.2 L380.9 154.5 L380.0 156.7 L379.1 159.1 L378.3 161.5 L377.5 163.9 L376.9 166.4 L376.4 169.0 L376.1 171.6 L376.0 174.2 L376.0 176.9 L376.1 179.5 L376.4 182.2 L376.8 184.9 L377.2 187.5 L377.7 190.1 L378.1 192.6 L378.4 195.2 L378.7 197.8 L378.9 200.3 L378.9 202.9 L378.8 205.5 L378.5 208.0 L378.1 210.5 L377.6 213.0 L377.0 215.5 L376.3 218.0 L375.6 220.4 L374.9 222.9 L374.2 225.3 L373.6 227.7 L373.1 230.0 L372.7 232.3 L372.5 234.6 L372.4 236.8 L372.4 239.0 L372.6 241.1 L372.9 243.2 L373.3 245.2 L373.8 247.3 L374.4 249.3 L375.1 251.3 L375.8 253.3 L376.6 255.3 L377.4 257.3 L378.2 259.4 L379.0 261.6 L379.7 263.9 L380.4 266.2 L381.0 268.8 L381.5 271.5 L381.8 274.3 L381.9 277.2 L381.9 280.1 L381.6 283.1 L381.2 286.0 L380.8 288.9 L380.2 291.7 L379.7 294.3 L379.3 296.8 L378.9 299.0 L378.7 301.0 L378.5 302.8 L378.4 304.2" stroke="#86492b" stroke-width="6.8" fill="none" stroke-linecap="round"/>
<path d="M392.3 104.3 L391.8 105.7 L391.3 107.2 L390.7 108.7 L390.0 110.3 L389.3 111.9 L388.6 113.5 L387.8 115.1 L387.0 116.7 L386.2 118.3 L385.5 119.9 L384.8 121.5 L384.1 123.1 L383.5 124.8 L382.9 126.5 L382.3 128.2 L381.8 129.9 L381.4 131.7 L381.1 133.6 L380.8 135.4" stroke="#f2f4f6" stroke-width="6.8" fill="none" stroke-linecap="butt"/>
<path d="M392.3 104.3 L391.8 105.7 L391.3 107.2 L390.7 108.7 L390.0 110.3 L389.3 111.9 L388.6 113.5 L387.8 115.1 L387.0 116.7 L386.2 118.3 L385.5 119.9 L384.8 121.5 L384.1 123.1 L383.5 124.8 L382.9 126.5 L382.3 128.2 L381.8 129.9 L381.4 131.7 L381.1 133.6 L380.8 135.4" stroke="#86492b" stroke-width="2.86" fill="none" stroke-linecap="butt"/>
<path d="M382.0 172.3 L381.4 174.9 L380.8 177.5 L380.0 180.0 L379.1 182.5 L378.2 185.0 L377.2 187.5 L376.3 189.9 L375.5 192.4 L374.7 194.9 L374.0 197.4 L373.5 199.9 L373.1 202.5 L372.8 205.1" stroke="#f2f4f6" stroke-width="6.8" fill="none" stroke-linecap="butt"/>
<path d="M382.0 172.3 L381.4 174.9 L380.8 177.5 L380.0 180.0 L379.1 182.5 L378.2 185.0 L377.2 187.5 L376.3 189.9 L375.5 192.4 L374.7 194.9 L374.0 197.4 L373.5 199.9 L373.1 202.5 L372.8 205.1" stroke="#86492b" stroke-width="2.86" fill="none" stroke-linecap="butt"/>
<path d="M378.5 240.6 L378.6 242.6 L378.6 244.7 L378.6 246.7 L378.4 248.8 L378.3 250.9 L378.0 253.0 L377.7 255.2 L377.4 257.3 L377.0 259.6 L376.6 261.8 L376.3 264.1 L376.0 266.6 L375.8 269.2 L375.7 271.9 L375.8 274.7 L376.1 277.6" stroke="#f2f4f6" stroke-width="6.8" fill="none" stroke-linecap="butt"/>
<path d="M378.5 240.6 L378.6 242.6 L378.6 244.7 L378.6 246.7 L378.4 248.8 L378.3 250.9 L378.0 253.0 L377.7 255.2 L377.4 257.3 L377.0 259.6 L376.6 261.8 L376.3 264.1 L376.0 266.6 L375.8 269.2 L375.7 271.9 L375.8 274.7 L376.1 277.6" stroke="#86492b" stroke-width="2.86" fill="none" stroke-linecap="butt"/>
<path d="M462.2 105.5 L462.0 106.3 L461.8 107.4 L461.6 108.5 L461.4 109.8 L461.1 111.2 L460.8 112.7 L460.4 114.3 L459.9 116.0 L459.4 117.7 L458.9 119.5 L458.3 121.3 L457.7 123.1 L457.1 124.8 L456.5 126.6 L455.8 128.3 L455.1 130.0 L454.4 131.7 L453.8 133.4 L453.0 135.1 L452.3 136.9 L451.6 138.7 L450.9 140.5 L450.2 142.3 L449.5 144.2 L448.9 146.0 L448.2 147.9 L447.6 149.7 L447.0 151.6 L446.5 153.5 L445.9 155.4 L445.5 157.3 L445.0 159.1 L444.6 161.0 L444.1 163.0 L443.8 164.9 L443.4 166.9 L443.0 168.8 L442.7 170.8 L442.4 172.8 L442.1 174.8 L441.8 176.9 L441.5 178.9 L441.2 180.9 L440.9 182.8 L440.6 184.8 L440.2 186.8 L439.9 188.7 L439.5 190.6 L439.0 192.4 L438.6 194.2 L438.0 196.0 L437.5 197.7 L436.9 199.3 L436.3 200.9 L435.6 202.5 L434.9 204.0 L434.2 205.6 L433.5 207.1 L432.7 208.7 L431.9 210.2 L431.1 211.8 L430.2 213.5 L429.3 215.2 L428.4 216.9 L427.4 218.8 L426.4 220.7 L425.3 222.6 L424.2 224.5 L423.1 226.5 L422.0 228.6 L420.8 230.6 L419.6 232.7 L418.5 234.9 L417.3 237.1 L416.2 239.3 L415.1 241.6 L414.0 243.9 L412.9 246.2 L412.0 248.6 L411.0 251.1 L410.1 253.7 L409.3 256.5 L408.5 259.5 L407.8 262.7 L407.2 265.9 L406.6 269.3 L406.2 272.6 L405.8 276.0 L405.5 279.3 L405.2 282.4 L404.9 285.4 L404.6 288.3 L404.3 290.8 L404.0 293.1 L403.7 295.1 L403.4 296.7" stroke="#f2f4f6" stroke-width="6.4" fill="none" stroke-linecap="round"/>
<path d="M462.2 105.5 L462.0 106.3 L461.8 107.4 L461.6 108.5 L461.4 109.8 L461.1 111.2 L460.8 112.7 L460.4 114.3 L459.9 116.0 L459.4 117.7 L458.9 119.5 L458.3 121.3 L457.7 123.1 L457.1 124.8 L456.5 126.6 L455.8 128.3 L455.1 130.0 L454.4 131.7 L453.8 133.4 L453.0 135.1 L452.3 136.9 L451.6 138.7 L450.9 140.5 L450.2 142.3 L449.5 144.2 L448.9 146.0 L448.2 147.9 L447.6 149.7 L447.0 151.6 L446.5 153.5 L445.9 155.4 L445.5 157.3 L445.0 159.1 L444.6 161.0 L444.1 163.0 L443.8 164.9 L443.4 166.9 L443.0 168.8 L442.7 170.8 L442.4 172.8 L442.1 174.8 L441.8 176.9 L441.5 178.9 L441.2 180.9 L440.9 182.8 L440.6 184.8 L440.2 186.8 L439.9 188.7 L439.5 190.6 L439.0 192.4 L438.6 194.2 L438.0 196.0 L437.5 197.7 L436.9 199.3 L436.3 200.9 L435.6 202.5 L434.9 204.0 L434.2 205.6 L433.5 207.1 L432.7 208.7 L431.9 210.2 L431.1 211.8 L430.2 213.5 L429.3 215.2 L428.4 216.9 L427.4 218.8 L426.4 220.7 L425.3 222.6 L424.2 224.5 L423.1 226.5 L422.0 228.6 L420.8 230.6 L419.6 232.7 L418.5 234.9 L417.3 237.1 L416.2 239.3 L415.1 241.6 L414.0 243.9 L412.9 246.2 L412.0 248.6 L411.0 251.1 L410.1 253.7 L409.3 256.5 L408.5 259.5 L407.8 262.7 L407.2 265.9 L406.6 269.3 L406.2 272.6 L405.8 276.0 L405.5 279.3 L405.2 282.4 L404.9 285.4 L404.6 288.3 L404.3 290.8 L404.0 293.1 L403.7 295.1 L403.4 296.7" stroke="#1f9f3f" stroke-width="2.88" fill="none" stroke-linecap="round"/>
<path d="M455.8 104.5 L455.7 105.4 L455.6 106.4 L455.4 107.6 L455.3 108.9 L455.2 110.4 L455.1 111.9 L455.0 113.5 L454.9 115.3 L454.9 117.0 L454.9 118.8 L454.9 120.7 L454.9 122.6 L454.9 124.5 L454.9 126.3 L454.9 128.2 L454.9 130.0 L454.9 131.8 L454.8 133.6 L454.8 135.5 L454.7 137.4 L454.6 139.3 L454.5 141.3 L454.4 143.2 L454.2 145.2 L454.0 147.2 L453.7 149.2 L453.4 151.2 L453.0 153.1 L452.6 155.1 L452.1 157.0 L451.6 159.0 L451.0 160.9 L450.4 162.7 L449.7 164.6 L448.9 166.5 L448.1 168.3 L447.3 170.2 L446.4 172.0 L445.5 173.8 L444.5 175.7 L443.5 177.4 L442.5 179.2 L441.5 181.0 L440.5 182.7 L439.5 184.4 L438.5 186.1 L437.5 187.8 L436.5 189.4 L435.6 191.0 L434.6 192.5 L433.7 194.0 L432.8 195.4 L431.9 196.9 L431.0 198.3 L430.2 199.8 L429.3 201.2 L428.5 202.7 L427.7 204.3 L426.9 205.9 L426.2 207.6 L425.5 209.3 L424.8 211.1 L424.2 213.1 L423.6 215.1 L423.1 217.2 L422.6 219.3 L422.2 221.5 L421.8 223.7 L421.5 226.0 L421.1 228.3 L420.8 230.6 L420.5 233.0 L420.2 235.4 L419.8 237.9 L419.5 240.3 L419.1 242.8 L418.6 245.3 L418.1 247.9 L417.6 250.4 L417.0 252.9 L416.2 255.5 L415.4 258.3 L414.4 261.3 L413.3 264.3 L412.0 267.4 L410.6 270.4 L409.2 273.5 L407.7 276.5 L406.2 279.5 L404.8 282.3 L403.4 285.0 L402.2 287.6 L401.0 289.9 L400.1 292.0 L399.2 293.8 L398.6 295.3" stroke="#1f9f3f" stroke-width="6.4" fill="none" stroke-linecap="round"/>
<path d="M460.8 112.7 L460.4 114.3 L459.9 116.0 L459.4 117.7 L458.9 119.5 L458.3 121.3 L457.7 123.1 L457.1 124.8 L456.5 126.6 L455.8 128.3 L455.1 130.0 L454.4 131.7 L453.8 133.4 L453.0 135.1 L452.3 136.9 L451.6 138.7 L450.9 140.5 L450.2 142.3 L449.5 144.2 L448.9 146.0 L448.2 147.9 L447.6 149.7 L447.0 151.6 L446.5 153.5 L445.9 155.4 L445.5 157.3" stroke="#f2f4f6" stroke-width="6.4" fill="none" stroke-linecap="butt"/>
<path d="M460.8 112.7 L460.4 114.3 L459.9 116.0 L459.4 117.7 L458.9 119.5 L458.3 121.3 L457.7 123.1 L457.1 124.8 L456.5 126.6 L455.8 128.3 L455.1 130.0 L454.4 131.7 L453.8 133.4 L453.0 135.1 L452.3 136.9 L451.6 138.7 L450.9 140.5 L450.2 142.3 L449.5 144.2 L448.9 146.0 L448.2 147.9 L447.6 149.7 L447.0 151.6 L446.5 153.5 L445.9 155.4 L445.5 157.3" stroke="#1f9f3f" stroke-width="2.88" fill="none" stroke-linecap="butt"/>
<path d="M432.7 208.7 L431.9 210.2 L431.1 211.8 L430.2 213.5 L429.3 215.2 L428.4 216.9 L427.4 218.8 L426.4 220.7 L425.3 222.6 L424.2 224.5 L423.1 226.5 L422.0 228.6 L420.8 230.6 L419.6 232.7 L418.5 234.9 L417.3 237.1 L416.2 239.3 L415.1 241.6 L414.0 243.9 L412.9 246.2 L412.0 248.6 L411.0 251.1 L410.1 253.7 L409.3 256.5" stroke="#f2f4f6" stroke-width="6.4" fill="none" stroke-linecap="butt"/>
<path d="M432.7 208.7 L431.9 210.2 L431.1 211.8 L430.2 213.5 L429.3 215.2 L428.4 216.9 L427.4 218.8 L426.4 220.7 L425.3 222.6 L424.2 224.5 L423.1 226.5 L422.0 228.6 L420.8 230.6 L419.6 232.7 L418.5 234.9 L417.3 237.1 L416.2 239.3 L415.1 241.6 L414.0 243.9 L412.9 246.2 L412.0 248.6 L411.0 251.1 L410.1 253.7 L409.3 256.5" stroke="#1f9f3f" stroke-width="2.88" fill="none" stroke-linecap="butt"/>
<path d="M362 352 L366 318 L376 300 L382 300 L378 355 Z" fill="#fbfbfb" filter="url(#soft)"/>
<path d="M370 355 L376 318 L392 298 L440 296 L464 294 L452 320 L430 345 L419 355 Z" fill="#dcdcde" filter="url(#soft)"/>
<g filter="url(#soft)" opacity="0.9">
  <path d="M378 335 C386 326 396 318 410 314 L414 322 C402 328 392 338 384 350 Z" fill="#f6f6f6"/>
  <path d="M418 306 C428 300 440 298 452 296 L446 310 C436 312 428 316 420 322 Z" fill="#d2d2d6"/>
  <path d="M402 340 C410 334 418 330 430 326 L424 340 C416 344 410 348 404 354 Z" fill="#d8d8dc"/>
</g>
<g filter="url(#soft)" fill="#c4c3c9">
  <path d="M386 312 C394 306 404 304 412 300 L410 308 C402 312 394 316 388 322 Z"/>
  <path d="M420 324 C428 318 436 316 444 312 L438 322 C430 326 424 330 418 336 Z"/>
  <path d="M376 336 C382 340 386 346 388 354 L380 354 C378 348 376 342 374 338 Z"/>
</g>
<g stroke="#8a8890" fill="none" stroke-linecap="round" opacity="0.9">
  <path d="M390 320 C396 324 400 330 404 334" stroke-width="2.6"/>
  <path d="M419 299 C424 302 430 304 435 307" stroke-width="2"/>
  <path d="M428 330 L432 336" stroke-width="2.4"/>
  <path d="M400 346 L404 350" stroke-width="2"/>
  <path d="M410 312 C414 318 420 322 424 320" stroke-width="1.2"/>
  <path d="M384 340 C390 344 394 348 398 352" stroke-width="1.2"/>
</g>


<!-- cable blue segments -->
<rect x="360" y="355" width="56" height="178" fill="url(#blueG)"/>
<rect x="366" y="356" width="12" height="177" fill="#4cc6ee" opacity="0.18" filter="url(#soft)"/>
<g clip-path="url(#braidClip)"><g filter="url(#soft2)"><rect x="369.5" y="532" width="38.0" height="128" fill="#b8b0a2"/>
<path d="M367.3 515.1 L374.5 530.1" stroke="#d4ccc0" stroke-width="2.2" stroke-linecap="round"/>
<path d="M367.3 518.9 L360.1 533.9" stroke="#857d71" stroke-width="2.2" stroke-linecap="round"/>
<path d="M369.1 522.6 L361.9 537.6" stroke="#e0dace" stroke-width="2.2" stroke-linecap="round"/>
<path d="M370.9 526.4 L363.7 541.4" stroke="#e0dace" stroke-width="2.2" stroke-linecap="round"/>
<path d="M372.7 530.1 L365.5 545.1" stroke="#c8c0b2" stroke-width="2.2" stroke-linecap="round"/>
<path d="M358.3 533.9 L365.5 548.9" stroke="#ece7de" stroke-width="2.2" stroke-linecap="round"/>
<path d="M381.7 515.1 L388.9 530.1" stroke="#c8c0b2" stroke-width="2.2" stroke-linecap="round"/>
<path d="M381.7 518.9 L374.5 533.9" stroke="#ece7de" stroke-width="2.2" stroke-linecap="round"/>
<path d="M383.5 522.6 L376.3 537.6" stroke="#ece7de" stroke-width="2.2" stroke-linecap="round"/>
<path d="M385.3 526.4 L378.1 541.4" stroke="#ece7de" stroke-width="2.2" stroke-linecap="round"/>
<path d="M387.1 530.1 L379.9 545.1" stroke="#d4ccc0" stroke-width="2.2" stroke-linecap="round"/>
<path d="M372.7 533.9 L379.9 548.9" stroke="#5e584f" stroke-width="2.2" stroke-linecap="round"/>
<path d="M370.9 537.6 L378.1 552.6" stroke="#c8c0b2" stroke-width="2.2" stroke-linecap="round"/>
<path d="M369.1 541.4 L376.3 556.4" stroke="#5e584f" stroke-width="2.2" stroke-linecap="round"/>
<path d="M367.3 545.1 L374.5 560.1" stroke="#ece7de" stroke-width="2.2" stroke-linecap="round"/>
<path d="M367.3 548.9 L360.1 563.9" stroke="#d4ccc0" stroke-width="2.2" stroke-linecap="round"/>
<path d="M369.1 552.6 L361.9 567.6" stroke="#857d71" stroke-width="2.2" stroke-linecap="round"/>
<path d="M370.9 556.4 L363.7 571.4" stroke="#d4ccc0" stroke-width="2.2" stroke-linecap="round"/>
<path d="M372.7 560.1 L365.5 575.1" stroke="#c8c0b2" stroke-width="2.2" stroke-linecap="round"/>
<path d="M358.3 563.9 L365.5 578.9" stroke="#857d71" stroke-width="2.2" stroke-linecap="round"/>
<path d="M396.1 515.1 L403.3 530.1" stroke="#5e584f" stroke-width="2.2" stroke-linecap="round"/>
<path d="M396.1 518.9 L388.9 533.9" stroke="#d4ccc0" stroke-width="2.2" stroke-linecap="round"/>
<path d="M397.9 522.6 L390.7 537.6" stroke="#c8c0b2" stroke-width="2.2" stroke-linecap="round"/>
<path d="M399.7 526.4 L392.5 541.4" stroke="#ece7de" stroke-width="2.2" stroke-linecap="round"/>
<path d="M401.5 530.1 L394.3 545.1" stroke="#ece7de" stroke-width="2.2" stroke-linecap="round"/>
<path d="M387.1 533.9 L394.3 548.9" stroke="#ece7de" stroke-width="2.2" stroke-linecap="round"/>
<path d="M385.3 537.6 L392.5 552.6" stroke="#e0dace" stroke-width="2.2" stroke-linecap="round"/>
<path d="M383.5 541.4 L390.7 556.4" stroke="#d4ccc0" stroke-width="2.2" stroke-linecap="round"/>
<path d="M381.7 545.1 L388.9 560.1" stroke="#d4ccc0" stroke-width="2.2" stroke-linecap="round"/>
<path d="M381.7 548.9 L374.5 563.9" stroke="#c8c0b2" stroke-width="2.2" stroke-linecap="round"/>
<path d="M383.5 552.6 L376.3 567.6" stroke="#6e675d" stroke-width="2.2" stroke-linecap="round"/>
<path d="M385.3 556.4 L378.1 571.4" stroke="#857d71" stroke-width="2.2" stroke-linecap="round"/>
<path d="M387.1 560.1 L379.9 575.1" stroke="#e0dace" stroke-width="2.2" stroke-linecap="round"/>
<path d="M372.7 563.9 L379.9 578.9" stroke="#6e675d" stroke-width="2.2" stroke-linecap="round"/>
<path d="M370.9 567.6 L378.1 582.6" stroke="#c8c0b2" stroke-width="2.2" stroke-linecap="round"/>
<path d="M369.1 571.4 L376.3 586.4" stroke="#857d71" stroke-width="2.2" stroke-linecap="round"/>
<path d="M367.3 575.1 L374.5 590.1" stroke="#e0dace" stroke-width="2.2" stroke-linecap="round"/>
<path d="M367.3 578.9 L360.1 593.9" stroke="#e0dace" stroke-width="2.2" stroke-linecap="round"/>
<path d="M369.1 582.6 L361.9 597.6" stroke="#e0dace" stroke-width="2.2" stroke-linecap="round"/>
<path d="M370.9 586.4 L363.7 601.4" stroke="#d4ccc0" stroke-width="2.2" stroke-linecap="round"/>
<path d="M372.7 590.1 L365.5 605.1" stroke="#5e584f" stroke-width="2.2" stroke-linecap="round"/>
<path d="M358.3 593.9 L365.5 608.9" stroke="#6e675d" stroke-width="2.2" stroke-linecap="round"/>
<path d="M410.5 515.1 L417.7 530.1" stroke="#d4ccc0" stroke-width="2.2" stroke-linecap="round"/>
<path d="M410.5 518.9 L403.3 533.9" stroke="#e0dace" stroke-width="2.2" stroke-linecap="round"/>
<path d="M412.3 522.6 L405.1 537.6" stroke="#5e584f" stroke-width="2.2" stroke-linecap="round"/>
<path d="M414.1 526.4 L406.9 541.4" stroke="#ece7de" stroke-width="2.2" stroke-linecap="round"/>
<path d="M415.9 530.1 L408.7 545.1" stroke="#857d71" stroke-width="2.2" stroke-linecap="round"/>
<path d="M401.5 533.9 L408.7 548.9" stroke="#e0dace" stroke-width="2.2" stroke-linecap="round"/>
<path d="M399.7 537.6 L406.9 552.6" stroke="#ece7de" stroke-width="2.2" stroke-linecap="round"/>
<path d="M397.9 541.4 L405.1 556.4" stroke="#e0dace" stroke-width="2.2" stroke-linecap="round"/>
<path d="M396.1 545.1 L403.3 560.1" stroke="#857d71" stroke-width="2.2" stroke-linecap="round"/>
<path d="M396.1 548.9 L388.9 563.9" stroke="#c8c0b2" stroke-width="2.2" stroke-linecap="round"/>
<path d="M397.9 552.6 L390.7 567.6" stroke="#ece7de" stroke-width="2.2" stroke-linecap="round"/>
<path d="M399.7 556.4 L392.5 571.4" stroke="#c8c0b2" stroke-width="2.2" stroke-linecap="round"/>
<path d="M401.5 560.1 L394.3 575.1" stroke="#d4ccc0" stroke-width="2.2" stroke-linecap="round"/>
<ellipse cx="395.2" cy="547.0" rx="2.2" ry="3.6" fill="#55504a" opacity="0.65"/>
<path d="M387.1 563.9 L394.3 578.9" stroke="#ece7de" stroke-width="2.2" stroke-linecap="round"/>
<path d="M385.3 567.6 L392.5 582.6" stroke="#ece7de" stroke-width="2.2" stroke-linecap="round"/>
<path d="M383.5 571.4 L390.7 586.4" stroke="#6e675d" stroke-width="2.2" stroke-linecap="round"/>
<path d="M381.7 575.1 L388.9 590.1" stroke="#d4ccc0" stroke-width="2.2" stroke-linecap="round"/>
<path d="M381.7 578.9 L374.5 593.9" stroke="#e0dace" stroke-width="2.2" stroke-linecap="round"/>
<path d="M383.5 582.6 L376.3 597.6" stroke="#ece7de" stroke-width="2.2" stroke-linecap="round"/>
<path d="M385.3 586.4 L378.1 601.4" stroke="#ece7de" stroke-width="2.2" stroke-linecap="round"/>
<path d="M387.1 590.1 L379.9 605.1" stroke="#ece7de" stroke-width="2.2" stroke-linecap="round"/>
<path d="M372.7 593.9 L379.9 608.9" stroke="#c8c0b2" stroke-width="2.2" stroke-linecap="round"/>
<path d="M370.9 597.6 L378.1 612.6" stroke="#e0dace" stroke-width="2.2" stroke-linecap="round"/>
<path d="M369.1 601.4 L376.3 616.4" stroke="#d4ccc0" stroke-width="2.2" stroke-linecap="round"/>
<path d="M367.3 605.1 L374.5 620.1" stroke="#5e584f" stroke-width="2.2" stroke-linecap="round"/>
<ellipse cx="373.6" cy="592.0" rx="2.2" ry="3.6" fill="#55504a" opacity="0.65"/>
<path d="M367.3 608.9 L360.1 623.9" stroke="#e0dace" stroke-width="2.2" stroke-linecap="round"/>
<path d="M369.1 612.6 L361.9 627.6" stroke="#5e584f" stroke-width="2.2" stroke-linecap="round"/>
<path d="M370.9 616.4 L363.7 631.4" stroke="#d4ccc0" stroke-width="2.2" stroke-linecap="round"/>
<path d="M372.7 620.1 L365.5 635.1" stroke="#857d71" stroke-width="2.2" stroke-linecap="round"/>
<path d="M358.3 623.9 L365.5 638.9" stroke="#e0dace" stroke-width="2.2" stroke-linecap="round"/>
<path d="M412.3 541.4 L419.5 556.4" stroke="#c8c0b2" stroke-width="2.2" stroke-linecap="round"/>
<path d="M410.5 545.1 L417.7 560.1" stroke="#6e675d" stroke-width="2.2" stroke-linecap="round"/>
<path d="M410.5 548.9 L403.3 563.9" stroke="#e0dace" stroke-width="2.2" stroke-linecap="round"/>
<path d="M412.3 552.6 L405.1 567.6" stroke="#c8c0b2" stroke-width="2.2" stroke-linecap="round"/>
<path d="M414.1 556.4 L406.9 571.4" stroke="#e0dace" stroke-width="2.2" stroke-linecap="round"/>
<path d="M415.9 560.1 L408.7 575.1" stroke="#ece7de" stroke-width="2.2" stroke-linecap="round"/>
<ellipse cx="409.6" cy="547.0" rx="2.2" ry="3.6" fill="#55504a" opacity="0.65"/>
<path d="M401.5 563.9 L408.7 578.9" stroke="#d4ccc0" stroke-width="2.2" stroke-linecap="round"/>
<path d="M399.7 567.6 L406.9 582.6" stroke="#c8c0b2" stroke-width="2.2" stroke-linecap="round"/>
<path d="M397.9 571.4 L405.1 586.4" stroke="#857d71" stroke-width="2.2" stroke-linecap="round"/>
<path d="M396.1 575.1 L403.3 590.1" stroke="#6e675d" stroke-width="2.2" stroke-linecap="round"/>
<path d="M396.1 578.9 L388.9 593.9" stroke="#6e675d" stroke-width="2.2" stroke-linecap="round"/>
<path d="M397.9 582.6 L390.7 597.6" stroke="#ece7de" stroke-width="2.2" stroke-linecap="round"/>
<path d="M399.7 586.4 L392.5 601.4" stroke="#e0dace" stroke-width="2.2" stroke-linecap="round"/>
<path d="M401.5 590.1 L394.3 605.1" stroke="#e0dace" stroke-width="2.2" stroke-linecap="round"/>
<path d="M387.1 593.9 L394.3 608.9" stroke="#ece7de" stroke-width="2.2" stroke-linecap="round"/>
<path d="M385.3 597.6 L392.5 612.6" stroke="#c8c0b2" stroke-width="2.2" stroke-linecap="round"/>
<path d="M383.5 601.4 L390.7 616.4" stroke="#c8c0b2" stroke-width="2.2" stroke-linecap="round"/>
<path d="M381.7 605.1 L388.9 620.1" stroke="#d4ccc0" stroke-width="2.2" stroke-linecap="round"/>
<path d="M381.7 608.9 L374.5 623.9" stroke="#d4ccc0" stroke-width="2.2" stroke-linecap="round"/>
<path d="M383.5 612.6 L376.3 627.6" stroke="#d4ccc0" stroke-width="2.2" stroke-linecap="round"/>
<path d="M385.3 616.4 L378.1 631.4" stroke="#d4ccc0" stroke-width="2.2" stroke-linecap="round"/>
<path d="M387.1 620.1 L379.9 635.1" stroke="#e0dace" stroke-width="2.2" stroke-linecap="round"/>
<path d="M372.7 623.9 L379.9 638.9" stroke="#c8c0b2" stroke-width="2.2" stroke-linecap="round"/>
<path d="M370.9 627.6 L378.1 642.6" stroke="#5e584f" stroke-width="2.2" stroke-linecap="round"/>
<path d="M369.1 631.4 L376.3 646.4" stroke="#d4ccc0" stroke-width="2.2" stroke-linecap="round"/>
<path d="M367.3 635.1 L374.5 650.1" stroke="#6e675d" stroke-width="2.2" stroke-linecap="round"/>
<path d="M367.3 638.9 L360.1 653.9" stroke="#5e584f" stroke-width="2.2" stroke-linecap="round"/>
<path d="M369.1 642.6 L361.9 657.6" stroke="#e0dace" stroke-width="2.2" stroke-linecap="round"/>
<path d="M370.9 646.4 L363.7 661.4" stroke="#c8c0b2" stroke-width="2.2" stroke-linecap="round"/>
<path d="M372.7 650.1 L365.5 665.1" stroke="#e0dace" stroke-width="2.2" stroke-linecap="round"/>
<path d="M358.3 653.9 L365.5 668.9" stroke="#c8c0b2" stroke-width="2.2" stroke-linecap="round"/>
<path d="M412.3 571.4 L419.5 586.4" stroke="#d4ccc0" stroke-width="2.2" stroke-linecap="round"/>
<path d="M410.5 575.1 L417.7 590.1" stroke="#6e675d" stroke-width="2.2" stroke-linecap="round"/>
<path d="M410.5 578.9 L403.3 593.9" stroke="#d4ccc0" stroke-width="2.2" stroke-linecap="round"/>
<path d="M412.3 582.6 L405.1 597.6" stroke="#857d71" stroke-width="2.2" stroke-linecap="round"/>
<path d="M414.1 586.4 L406.9 601.4" stroke="#5e584f" stroke-width="2.2" stroke-linecap="round"/>
<path d="M415.9 590.1 L408.7 605.1" stroke="#e0dace" stroke-width="2.2" stroke-linecap="round"/>
<path d="M401.5 593.9 L408.7 608.9" stroke="#6e675d" stroke-width="2.2" stroke-linecap="round"/>
<path d="M399.7 597.6 L406.9 612.6" stroke="#857d71" stroke-width="2.2" stroke-linecap="round"/>
<path d="M397.9 601.4 L405.1 616.4" stroke="#6e675d" stroke-width="2.2" stroke-linecap="round"/>
<path d="M396.1 605.1 L403.3 620.1" stroke="#6e675d" stroke-width="2.2" stroke-linecap="round"/>
<path d="M396.1 608.9 L388.9 623.9" stroke="#d4ccc0" stroke-width="2.2" stroke-linecap="round"/>
<path d="M397.9 612.6 L390.7 627.6" stroke="#ece7de" stroke-width="2.2" stroke-linecap="round"/>
<path d="M399.7 616.4 L392.5 631.4" stroke="#d4ccc0" stroke-width="2.2" stroke-linecap="round"/>
<path d="M401.5 620.1 L394.3 635.1" stroke="#ece7de" stroke-width="2.2" stroke-linecap="round"/>
<path d="M387.1 623.9 L394.3 638.9" stroke="#e0dace" stroke-width="2.2" stroke-linecap="round"/>
<path d="M385.3 627.6 L392.5 642.6" stroke="#d4ccc0" stroke-width="2.2" stroke-linecap="round"/>
<path d="M383.5 631.4 L390.7 646.4" stroke="#d4ccc0" stroke-width="2.2" stroke-linecap="round"/>
<path d="M381.7 635.1 L388.9 650.1" stroke="#d4ccc0" stroke-width="2.2" stroke-linecap="round"/>
<path d="M381.7 638.9 L374.5 653.9" stroke="#ece7de" stroke-width="2.2" stroke-linecap="round"/>
<path d="M383.5 642.6 L376.3 657.6" stroke="#5e584f" stroke-width="2.2" stroke-linecap="round"/>
<path d="M385.3 646.4 L378.1 661.4" stroke="#857d71" stroke-width="2.2" stroke-linecap="round"/>
<path d="M387.1 650.1 L379.9 665.1" stroke="#6e675d" stroke-width="2.2" stroke-linecap="round"/>
<ellipse cx="380.8" cy="637.0" rx="2.2" ry="3.6" fill="#55504a" opacity="0.65"/>
<path d="M372.7 653.9 L379.9 668.9" stroke="#5e584f" stroke-width="2.2" stroke-linecap="round"/>
<path d="M370.9 657.6 L378.1 672.6" stroke="#5e584f" stroke-width="2.2" stroke-linecap="round"/>
<path d="M369.1 661.4 L376.3 676.4" stroke="#d4ccc0" stroke-width="2.2" stroke-linecap="round"/>
<ellipse cx="373.6" cy="652.0" rx="2.2" ry="3.6" fill="#55504a" opacity="0.65"/>
<path d="M412.3 601.4 L419.5 616.4" stroke="#e0dace" stroke-width="2.2" stroke-linecap="round"/>
<path d="M410.5 605.1 L417.7 620.1" stroke="#d4ccc0" stroke-width="2.2" stroke-linecap="round"/>
<path d="M410.5 608.9 L403.3 623.9" stroke="#c8c0b2" stroke-width="2.2" stroke-linecap="round"/>
<path d="M412.3 612.6 L405.1 627.6" stroke="#d4ccc0" stroke-width="2.2" stroke-linecap="round"/>
<path d="M414.1 616.4 L406.9 631.4" stroke="#d4ccc0" stroke-width="2.2" stroke-linecap="round"/>
<path d="M415.9 620.1 L408.7 635.1" stroke="#e0dace" stroke-width="2.2" stroke-linecap="round"/>
<ellipse cx="409.6" cy="607.0" rx="2.2" ry="3.6" fill="#55504a" opacity="0.65"/>
<path d="M401.5 623.9 L408.7 638.9" stroke="#857d71" stroke-width="2.2" stroke-linecap="round"/>
<path d="M399.7 627.6 L406.9 642.6" stroke="#d4ccc0" stroke-width="2.2" stroke-linecap="round"/>
<path d="M397.9 631.4 L405.1 646.4" stroke="#6e675d" stroke-width="2.2" stroke-linecap="round"/>
<path d="M396.1 635.1 L403.3 650.1" stroke="#c8c0b2" stroke-width="2.2" stroke-linecap="round"/>
<path d="M396.1 638.9 L388.9 653.9" stroke="#857d71" stroke-width="2.2" stroke-linecap="round"/>
<path d="M397.9 642.6 L390.7 657.6" stroke="#c8c0b2" stroke-width="2.2" stroke-linecap="round"/>
<path d="M399.7 646.4 L392.5 661.4" stroke="#e0dace" stroke-width="2.2" stroke-linecap="round"/>
<path d="M401.5 650.1 L394.3 665.1" stroke="#c8c0b2" stroke-width="2.2" stroke-linecap="round"/>
<path d="M387.1 653.9 L394.3 668.9" stroke="#ece7de" stroke-width="2.2" stroke-linecap="round"/>
<path d="M385.3 657.6 L392.5 672.6" stroke="#ece7de" stroke-width="2.2" stroke-linecap="round"/>
<path d="M383.5 661.4 L390.7 676.4" stroke="#d4ccc0" stroke-width="2.2" stroke-linecap="round"/>
<path d="M412.3 631.4 L419.5 646.4" stroke="#c8c0b2" stroke-width="2.2" stroke-linecap="round"/>
<path d="M410.5 635.1 L417.7 650.1" stroke="#ece7de" stroke-width="2.2" stroke-linecap="round"/>
<path d="M410.5 638.9 L403.3 653.9" stroke="#5e584f" stroke-width="2.2" stroke-linecap="round"/>
<path d="M412.3 642.6 L405.1 657.6" stroke="#857d71" stroke-width="2.2" stroke-linecap="round"/>
<path d="M414.1 646.4 L406.9 661.4" stroke="#ece7de" stroke-width="2.2" stroke-linecap="round"/>
<path d="M415.9 650.1 L408.7 665.1" stroke="#6e675d" stroke-width="2.2" stroke-linecap="round"/>
<path d="M401.5 653.9 L408.7 668.9" stroke="#857d71" stroke-width="2.2" stroke-linecap="round"/>
<path d="M399.7 657.6 L406.9 672.6" stroke="#d4ccc0" stroke-width="2.2" stroke-linecap="round"/>
<path d="M397.9 661.4 L405.1 676.4" stroke="#ece7de" stroke-width="2.2" stroke-linecap="round"/>
<ellipse cx="402.4" cy="652.0" rx="2.2" ry="3.6" fill="#55504a" opacity="0.65"/>
<path d="M412.3 661.4 L419.5 676.4" stroke="#c8c0b2" stroke-width="2.2" stroke-linecap="round"/></g><rect x="369.5" y="532" width="38" height="128" fill="url(#braidShade)"/></g>
<rect x="360" y="659" width="56" height="91" fill="url(#blueG)"/>
<rect x="366" y="660" width="12" height="90" fill="#4cc6ee" opacity="0.18" filter="url(#soft)"/>
<g clip-path="url(#blueClip1)" fill="#3f95be" font-size="16">
<text transform="translate(381,366.5) rotate(90)" textLength="73.5" lengthAdjust="spacingAndGlyphs">YonsDins</text>
<text transform="translate(381,454.5) rotate(90)" textLength="42" lengthAdjust="spacingAndGlyphs">SSTP</text>
<text transform="translate(381,502.5) rotate(90)" textLength="32" lengthAdjust="spacingAndGlyphs">4*2</text>
</g>
<g clip-path="url(#blueClip2)"><text transform="translate(381,653) rotate(90)" font-size="17.2" fill="#3f95be">STRIALCAB</text></g>

<!-- labels -->
<text class="lbl" x="144.5" y="39" textLength="153" lengthAdjust="spacingAndGlyphs">Multiple strands of</text>
<text class="lbl" x="155" y="70.5" textLength="133" lengthAdjust="spacingAndGlyphs">thin copper wire</text>
<text class="lbl" x="49.5" y="338" textLength="160.5" lengthAdjust="spacingAndGlyphs">Aluminum foil shield</text>
<text class="lbl" x="567.5" y="184.5" textLength="116" lengthAdjust="spacingAndGlyphs">Pairs of cores</text>
<text class="lbl" x="493.5" y="368.5" textLength="253" lengthAdjust="spacingAndGlyphs">High tenacity cotton rope filling</text>
<text class="lbl" x="50.5" y="496" textLength="240.5" lengthAdjust="spacingAndGlyphs">The wire diameter is 26AWG</text>
<text class="lbl" x="465" y="629.2" textLength="274" lengthAdjust="spacingAndGlyphs">High density braided shielding net</text>
<text class="lbl" x="30.5" y="721" textLength="219" lengthAdjust="spacingAndGlyphs">PVC thickened outer cover</text>

<!-- callout lines -->
<g stroke="#1a1a1a" stroke-width="1.4" fill="none">
  <path d="M224 84 V149"/>
  <path d="M390 93 V46 H531"/>
  <path d="M239 335 H379"/>
  <path d="M376 298 H475 V374 H509"/>
  <path d="M443 180 H557"/>
  <path d="M301 491 H360"/>
  <path d="M402 601 H475"/>
  <path d="M249 717 H279 M288 718 H361"/>
</g>
<g fill="#111">
  <circle cx="239" cy="335" r="2.6"/>
  <circle cx="557" cy="180" r="2.6"/>
  <circle cx="509" cy="374" r="2.6"/>
  <circle cx="301" cy="491" r="2.6"/>
  <circle cx="475" cy="601" r="2.6"/>
  <circle cx="288" cy="718" r="2.6"/>
</g>

<!-- caliper circle -->
<g clip-path="url(#circClip)">
  <rect x="525" y="0" width="120" height="110" fill="#ebebeb"/>
  <rect x="585" y="56" width="60" height="55" fill="#dedede"/>
  <path d="M529 28 C536 34 544 60 548 108 L528 110 Z" fill="#dcb8aa"/>
  <path d="M574 56 L588 56 C592 70 592 96 584 110 L568 110 Z" fill="#dfb4a4"/>
  <path d="M539 8 L562 8 L562 108 L551 108 C547 80 541 40 539 8 Z" fill="#2c2c2c"/>
  <path d="M562 54 L581 54 L575 108 L562 108 Z" fill="#2a2a2a"/>
  <path d="M562 12 Q562 7 567 7 L645 7 L645 66 L636 66 L630 55 L562 55 Z" fill="#2b2b2b"/>
  <rect x="568" y="20" width="63.5" height="25.7" rx="1.5" fill="#bfc3b3" stroke="#dde0d6" stroke-width="1"/>
  <g stroke="#161616" stroke-width="2.3" fill="none" stroke-linejoin="round">
    <path d="M603.6 27 L602.4 42"/>
    <path d="M608.2 27 L613.2 27 Q614 27 613.9 28 L613.1 41 Q613 42 612.2 42 L607.2 42 Q606.4 42 606.5 41 L607.3 28 Q607.4 27 608.2 27 Z"/>
  </g>
  <text x="621" y="34" font-size="4.5" fill="#333">mm</text>
  <text x="586" y="18" font-size="4.5" fill="#cfcfcf">mmlouch</text>
  <rect x="606" y="14.5" width="8.5" height="3.5" rx="1" fill="#3a9ae0"/>
  <rect x="581" y="48.5" width="9.5" height="3.5" fill="#d84848"/>
  <rect x="605" y="48.5" width="8" height="3.5" fill="#e8e2b0"/>
  <text x="571" y="52" font-size="4" fill="#bbb">OFF</text>
  <text x="594" y="52" font-size="4" fill="#bbb">ON</text>
  <text x="616" y="52" font-size="4" fill="#bbb">ZERO</text>
  <rect x="556" y="22" width="5" height="19" fill="#e4e4e4"/>
  <rect x="559" y="42" width="1.5" height="66" fill="#c8c8c0"/>
</g>
<circle cx="584" cy="54" r="53.5" fill="none" stroke="#1c1c1c" stroke-width="2.2"/>
</svg>
</body></html>
